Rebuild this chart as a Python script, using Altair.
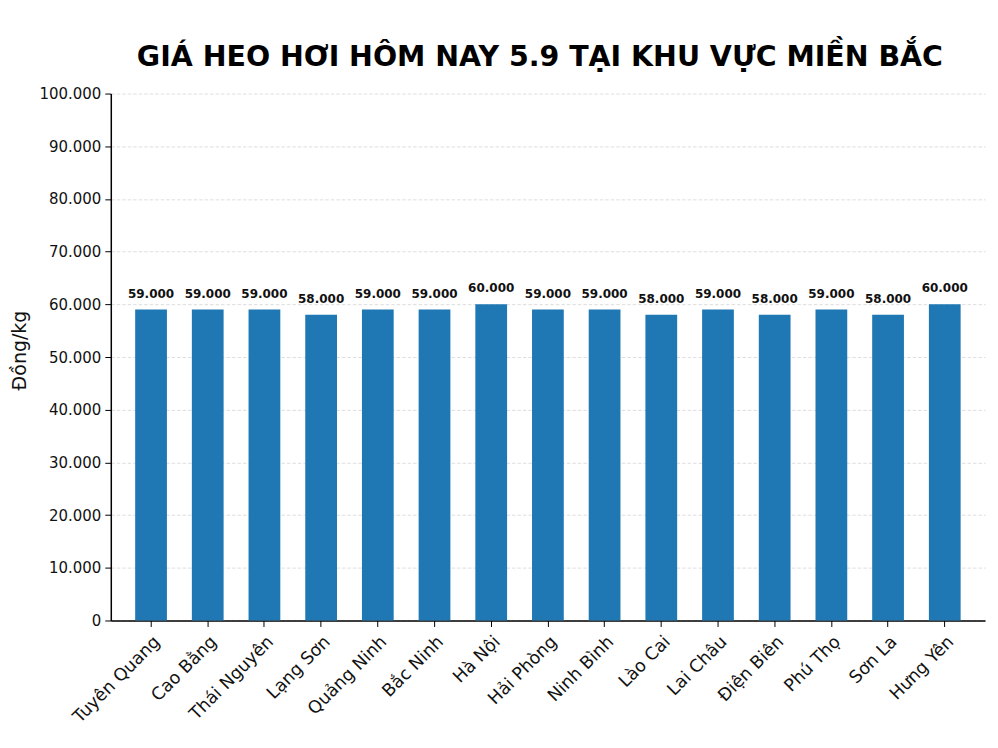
import altair as alt
import pandas as pd

provinces = ["Tuyên Quang", "Cao Bằng", "Thái Nguyên", "Lạng Sơn", "Quảng Ninh",
             "Bắc Ninh", "Hà Nội", "Hải Phòng", "Ninh Bình", "Lào Cai",
             "Lai Châu", "Điện Biên", "Phú Thọ", "Sơn La", "Hưng Yên"]
prices = [59000, 59000, 59000, 58000, 59000,
          59000, 60000, 59000, 59000, 58000,
          59000, 58000, 59000, 58000, 60000]
y_ticks = list(range(0, 100001, 10000))

df = pd.DataFrame({"province": provinces, "price": prices})

FONT = "DejaVu Sans"

base = alt.Chart(df).transform_calculate(
    label="replace(format(datum.price, ','), ',', '.')"
).encode(
    x=alt.X("province:N", sort=provinces, title=None,
            scale=alt.Scale(paddingInner=0.44, paddingOuter=0.43),
            axis=alt.Axis(labelAngle=-45, labelAlign="right", labelBaseline="top",
                          labelFontSize=17.5, labelColor="#111", labelFont=FONT,
                          tickColor="#000", tickSize=6, domainColor="#000",
                          domainWidth=1.5, labelPadding=6, grid=False)),
    y=alt.Y("price:Q", title="Đồng/kg",
            scale=alt.Scale(domain=[0, 100000], nice=False),
            axis=alt.Axis(values=y_ticks,
                          labelExpr="replace(format(datum.value, ','), ',', '.')",
                          labelFontSize=15, labelColor="#111", labelFont=FONT,
                          titleFontSize=19, titleFont=FONT, titleFontWeight="normal",
                          titleColor="#111", titlePadding=9, titleY=257,
                          tickColor="#000", tickSize=6, domainColor="#000",
                          domainWidth=1.5, labelPadding=4,
                          grid=True, gridDash=[3.5, 2], gridColor="#d6d6d6",
                          gridWidth=0.8)),
)

bars = base.mark_bar(color="#1f77b4")
labels = base.mark_text(dy=-9, baseline="bottom", fontWeight="bold",
                        fontSize=12, font=FONT, color="#111").encode(
    text="label:N")

chart = (bars + labels).properties(
    width=876, height=528,
    background="white",
    padding={"top": 34, "left": 2, "right": 5, "bottom": 5},
    title=alt.TitleParams("GIÁ HEO HƠI HÔM NAY 5.9 TẠI KHU VỰC MIỀN BẮC",
                          font=FONT, fontSize=28.5, fontWeight="bold",
                          color="#000", anchor="middle", offset=15, dx=-8),
).configure_view(strokeWidth=0)

chart.save("out.html", embed_options={"renderer": "svg", "actions": False})
